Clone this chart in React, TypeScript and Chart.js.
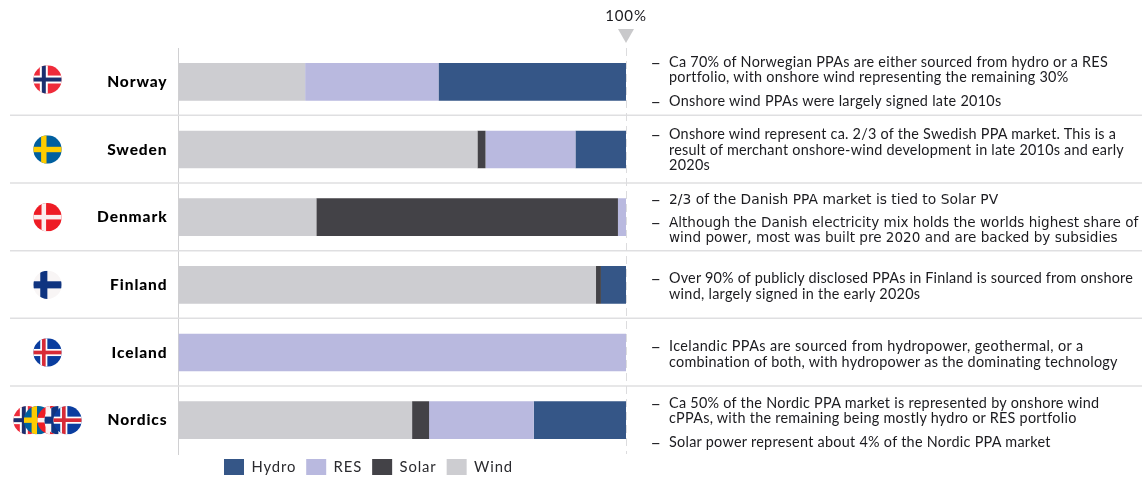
import React, { useEffect, useRef } from "react";
import { Chart, registerables } from "chart.js";

Chart.register(...registerables);

const countries = ["Norway", "Sweden", "Denmark", "Finland", "Iceland", "Nordics"];
const wind = [28.3, 66.8, 30.8, 93.3, 0, 52.2];
const solar = [0, 1.8, 67.4, 1.1, 0, 3.8];
const res = [29.8, 20.1, 1.8, 0, 100, 23.4];
const hydro = [41.9, 11.3, 0, 5.6, 0, 20.6];

const noteLines = [
  "Ca 70% of Norwegian PPAs are either sourced from hydro or a RES",
  "portfolio, with onshore wind representing the remaining 30%",
  "Onshore wind PPAs were largely signed late 2010s",
  "Onshore wind represent ca. 2/3 of the Swedish PPA market. This is a",
  "result of merchant onshore-wind development in late 2010s and early",
  "2020s",
  "2/3 of the Danish PPA market is tied to Solar PV",
  "Although the Danish electricity mix holds the worlds highest share of",
  "wind power, most was built pre 2020 and are backed by subsidies",
  "Over 90% of publicly disclosed PPAs in Finland is sourced from onshore",
  "wind, largely signed in the early 2020s",
  "Icelandic PPAs are sourced from hydropower, geothermal, or a",
  "combination of both, with hydropower as the dominating technology",
  "Ca 50% of the Nordic PPA market is represented by onshore wind",
  "cPPAs, with the remaining being mostly hydro or RES portfolio",
  "Solar power represent about 4% of the Nordic PPA market",
];

const WIDTH = 1146;
const HEIGHT = 479;
const TEXT = "#1b1b1f";
const FONT = "Lato, sans-serif";
const RULE = "#dfdfe1";

// Vertical centre of each note line, whether it opens a bullet, and its type.
const noteLayout: { y: number; dash?: boolean; size?: number; track?: number }[] = [
  { y: 61, dash: true },
  { y: 76.5 },
  { y: 100, dash: true },
  { y: 133.5, dash: true, track: 0.24 },
  { y: 149, track: 0.24 },
  { y: 164 },
  { y: 198, dash: true, size: 13.85 },
  { y: 221.5, dash: true, size: 13.57 },
  { y: 236, size: 13.57 },
  { y: 277.5, dash: true, track: 0.2 },
  { y: 293 },
  { y: 345, dash: true, track: 0.4 },
  { y: 361, track: 0.26 },
  { y: 402, dash: true },
  { y: 417.5, track: 0.26 },
  { y: 441, dash: true },
];

type Flag = { field: string; cross: string; width: number; inner?: string; innerWidth?: number };
const flags: Record<string, Flag> = {
  Norway: { field: "#ef2b3a", cross: "#ffffff", width: 0.56, inner: "#1c2f6e", innerWidth: 0.28 },
  Sweden: { field: "#005f9f", cross: "#fecc00", width: 0.38 },
  Denmark: { field: "#ee1c25", cross: "#fbeeee", width: 0.32 },
  Finland: { field: "#f8f5f5", cross: "#0f3480", width: 0.5 },
  Iceland: { field: "#0a3d9f", cross: "#ffffff", width: 0.5, inner: "#d72b37", innerWidth: 0.26 },
};
const nordicFlags = ["Norway", "Sweden", "Denmark", "Finland", "Iceland"];
const nordicFlagCentres = [27.5, 38, 51.5, 58.5, 67.5];

function drawFlag(ctx: CanvasRenderingContext2D, name: string, cx: number, cy: number, r: number) {
  const f = flags[name];
  const barX = cx - r * 0.26;
  ctx.save();
  ctx.beginPath();
  ctx.arc(cx, cy, r, 0, Math.PI * 2);
  ctx.clip();
  ctx.fillStyle = f.field;
  ctx.fillRect(cx - r, cy - r, r * 2, r * 2);
  const band = (w: number, color: string) => {
    ctx.fillStyle = color;
    ctx.fillRect(barX - w / 2, cy - r, w, r * 2);
    ctx.fillRect(cx - r, cy - w / 2, r * 2, w);
  };
  band(r * f.width, f.cross);
  if (f.inner) band(r * (f.innerWidth as number), f.inner);
  ctx.restore();
}

// Canvas letter spacing has to be reapplied, since a canvas resize clears the state.
const trackedText = {
  id: "trackedText",
  beforeLayout(chart: Chart) {
    (chart.ctx as any).letterSpacing = "0.9px";
  },
  beforeDraw(chart: Chart) {
    (chart.ctx as any).letterSpacing = "0.9px";
  },
};

// Row separators and round flags, placed from the category scale.
const rowDecor = {
  id: "rowDecor",
  beforeDatasetsDraw(chart: Chart) {
    const { ctx, scales } = chart;
    const y = scales.y;
    const step = (y.bottom - y.top) / countries.length;
    ctx.save();
    ctx.strokeStyle = RULE;
    ctx.lineWidth = 1.5;
    for (let i = 1; i < countries.length; i++) {
      const py = y.top + step * i - 0.3;
      ctx.beginPath();
      ctx.moveTo(10, py);
      ctx.lineTo(1142, py);
      ctx.stroke();
    }
    ctx.restore();
    countries.forEach((name, i) => {
      const cy = y.getPixelForValue(i) - (i === 0 ? 2.3 : 0);
      if (flags[name]) {
        drawFlag(ctx, name, 47.5, cy, 14.2);
      } else {
        nordicFlags.forEach((n, k) => drawFlag(ctx, n, nordicFlagCentres[k], cy, 14.2));
      }
    });
  },
  afterDatasetsDraw(chart: Chart) {
    const { ctx, scales } = chart;
    const px = scales.x.getPixelForValue(100);
    ctx.save();
    ctx.strokeStyle = "#dcdcde";
    ctx.lineWidth = 1;
    ctx.setLineDash([8, 5]);
    ctx.beginPath();
    ctx.moveTo(px + 0.5, scales.y.top);
    ctx.lineTo(px + 0.5, scales.y.bottom);
    ctx.stroke();
    ctx.setLineDash([]);
    ctx.fillStyle = "#c9c9cb";
    ctx.beginPath();
    ctx.moveTo(px - 8, 29);
    ctx.lineTo(px + 8, 29);
    ctx.lineTo(px, 43);
    ctx.closePath();
    ctx.fill();
    ctx.restore();
  },
};

// The legend sits under the bars, left of the plot centre.
const legendPlacement = {
  id: "legendPlacement",
  afterLayout(chart: Chart) {
    const legend = chart.legend as any;
    legend.left = 214;
    legend.right = 640;
    legend.top = 449;
  },
};

export default function App() {
  const canvasRef = useRef<HTMLCanvasElement>(null);

  useEffect(() => {
    document.body.style.margin = "0";
    const chart = new Chart(canvasRef.current!, {
      type: "bar",
      data: {
        labels: countries,
        datasets: [
          { label: "Wind", data: wind, backgroundColor: "#cdcdd1" },
          { label: "Solar", data: solar, backgroundColor: "#434247" },
          { label: "RES", data: res, backgroundColor: "#b9b9df" },
          { label: "Hydro", data: hydro, backgroundColor: "#355687" },
        ],
      },
      options: {
        indexAxis: "y",
        animation: false,
        responsive: false,
        layout: { padding: { left: 0, right: WIDTH - 626, top: 0, bottom: 0 } },
        datasets: { bar: { barPercentage: 0.556, categoryPercentage: 1, borderWidth: 0 } },
        scales: {
          x: {
            position: "top",
            stacked: true,
            min: 0,
            max: 100,
            grid: { display: false, drawTicks: false },
            border: { display: false },
            afterFit(scale: any) {
              scale.height = 48;
            },
            ticks: {
              stepSize: 100,
              maxRotation: 0,
              padding: 23,
              color: TEXT,
              font: { family: FONT, size: 15 },
              callback: (v: any) => (v === 100 ? "100%" : ""),
            },
          },
          y: {
            stacked: true,
            grid: { display: false, drawTicks: false },
            border: { display: true, color: "#d0d0d2", width: 1 },
            afterFit(scale: any) {
              scale.width = 178.5;
            },
            ticks: {
              padding: 11,
              color: "#000000",
              font: { family: FONT, size: 15.5, weight: 900 },
            },
          },
        },
        plugins: {
          tooltip: { enabled: false },
          legend: {
            position: "bottom",
            align: "start",
            reverse: true,
            maxHeight: 25,
            labels: {
              boxWidth: 20,
              boxHeight: 16,
              padding: 10,
              color: "#2a2a2e",
              font: { family: FONT, size: 14.8 },
            },
          },
        },
      } as any,
      plugins: [trackedText, rowDecor, legendPlacement],
    });
    return () => chart.destroy();
  }, []);

  return (
    <div style={{ position: "absolute", left: 0, top: 0, width: WIDTH, height: HEIGHT, background: "#fff", overflow: "hidden" }}>
      <canvas ref={canvasRef} width={WIDTH} height={HEIGHT} style={{ display: "block" }} />
      {noteLines.map((line, i) => {
        const n = noteLayout[i];
        return (
          <div
            key={line}
            style={{
              position: "absolute",
              left: 0,
              top: n.y - 9.5,
              height: 20,
              lineHeight: "20px",
              whiteSpace: "nowrap",
              color: TEXT,
              fontFamily: n.size ? "'DejaVu Sans', sans-serif" : FONT,
              fontSize: n.size ?? 14.4,
              letterSpacing: n.size ? 0 : n.track ?? 0.28,
            }}
          >
            {n.dash && <span style={{ position: "absolute", left: 650.5, fontFamily: FONT, fontSize: 18 }}>–</span>}
            <span style={{ position: "absolute", left: 669 }}>{line}</span>
          </div>
        );
      })}
    </div>
  );
}
